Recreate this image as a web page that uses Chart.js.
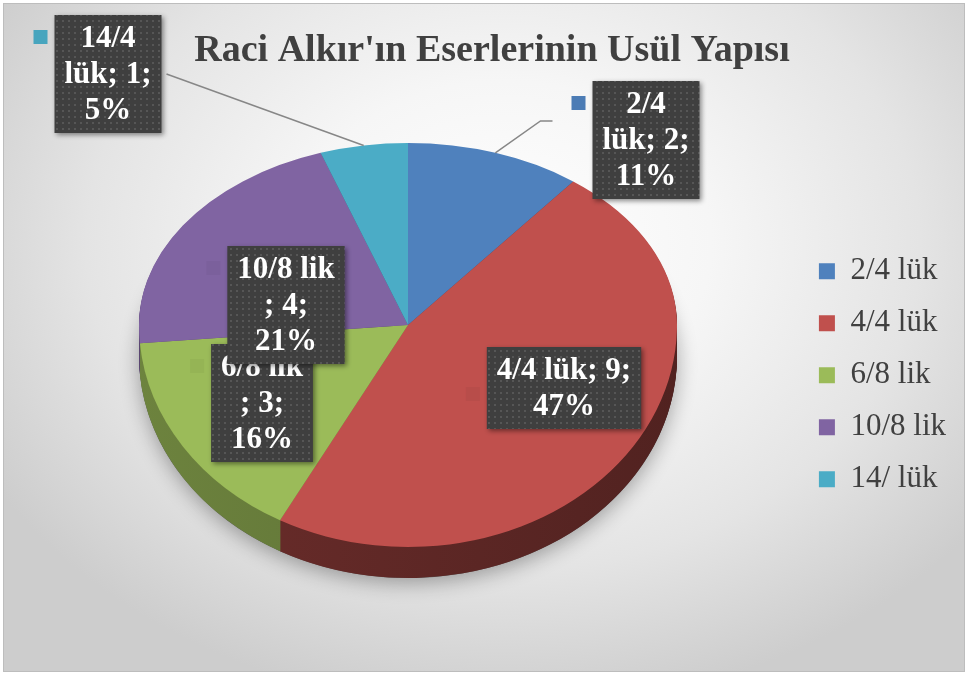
<!DOCTYPE html>
<html lang="tr">
<head>
  <meta charset="UTF-8">
  <title>Raci Alkır'ın Eserlerinin Usül Yapısı</title>
  <script src="https://cdn.jsdelivr.net/npm/chart.js"></script>
  <style>
    html, body { margin: 0; padding: 0; background: #fff; }
    .frame {
      position: absolute; left: 3px; top: 3px; width: 960px; height: 667px;
      border: 1px solid #bdbdbd;
      background: radial-gradient(ellipse 62% 70% at 52% 36%, #ffffff 0%, #f6f6f6 35%, #e4e4e4 70%, #cdcdcd 100%);
    }
    #pie { position: absolute; left: 0; top: 0; }
  </style>
</head>
<body>
  <div class="frame"></div>
  <canvas id="pie" width="968" height="675"></canvas>

  <script>
    // Kategori adlari (lejant) ve etiket kutularindaki adlar
    const categories = ["2/4 lük", "4/4 lük", "6/8 lik", "10/8 lik", "14/ lük"];
    const labelNames = ["2/4 lük", "4/4 lük", "6/8 lik", "10/8 lik", "14/4 lük"];
    // Eser sayilari
    const counts = [2, 9, 3, 4, 1];
    const colors = ["#4f81bd", "#c0504d", "#9bbb59", "#8064a2", "#4bacc6"];

    // 3B gorunum: merkez, yatay yaricap, ust/alt yari dikey yaricaplar (perspektif), derinlik
    const PIE = { cx: 408, cy: 325, rx: 269, ryTop: 182, ryBot: 222, depth: 31 };

    // Etiket kutulari: pasta merkezine gore kutu merkezi, satir kirma genisligi (em)
    const LBL = { size: 31, line: 36, padX: 10, padY: 5 };
    const labelOffsets = [[238, -185], [156, 63], [-146, 78], [-122, -20], [-300, -251]];
    const labelWrap = [2.86, 5, 2.86, 3.3, 2.86];

    function shade(hex, f) {
      const n = parseInt(hex.slice(1), 16);
      const r = Math.round(((n >> 16) & 255) * f);
      const g = Math.round(((n >> 8) & 255) * f);
      const b = Math.round((n & 255) * f);
      return `rgb(${r},${g},${b})`;
    }

    // ust ve alt yariyi ayri olcekle ciz (basit perspektif)
    function eachHalf(ctx, arc, dy, fn) {
      const W = ctx.canvas.width, H = ctx.canvas.height;
      const yc = PIE.cy + dy;
      [[0, yc + 0.5, PIE.ryTop], [yc - 0.5, H, PIE.ryBot]].forEach(([y0, y1, ry]) => {
        ctx.save();
        ctx.beginPath();
        ctx.rect(0, y0, W, y1 - y0);
        ctx.clip();
        ctx.translate(PIE.cx, yc);
        ctx.scale(PIE.rx / arc.outerRadius, ry / arc.outerRadius);
        ctx.translate(-arc.x, -arc.y);
        fn();
        ctx.restore();
      });
    }

    // elips uzerindeki nokta (dilimin orta acisi)
    function rimPoint(arc) {
      const a = (arc.startAngle + arc.endAngle) / 2;
      const ry = Math.sin(a) < 0 ? PIE.ryTop : PIE.ryBot;
      return [PIE.cx + Math.cos(a) * PIE.rx, PIE.cy + Math.sin(a) * ry];
    }

    const pie3d = {
      id: 'pie3d',
      beforeDatasetsDraw(chart) {
        const ctx = chart.ctx;
        const arcs = chart.getDatasetMeta(0).data;
        const a0 = arcs[0];

        // taban golgesi
        ctx.save();
        ctx.shadowColor = 'rgba(0,0,0,0.33)';
        ctx.shadowBlur = 20;
        ctx.shadowOffsetY = 5;
        ctx.fillStyle = '#555';
        ctx.beginPath();
        ctx.ellipse(PIE.cx, PIE.cy + PIE.depth, PIE.rx, PIE.ryBot, 0, 0, Math.PI);
        ctx.ellipse(PIE.cx, PIE.cy + PIE.depth, PIE.rx, PIE.ryTop, 0, Math.PI, Math.PI * 2);
        ctx.closePath();
        ctx.fill();
        ctx.restore();

        // yan yuzler
        for (let k = PIE.depth; k >= 1; k--) {
          eachHalf(ctx, a0, k, () => {
            arcs.forEach((arc, i) => {
              const g = ctx.createLinearGradient(arc.x - arc.outerRadius, 0, arc.x + arc.outerRadius, 0);
              const f = i === 1 ? [0.56, 0.42] : [0.7, 0.55];
              g.addColorStop(0, shade(colors[i], f[0]));
              g.addColorStop(1, shade(colors[i], f[1]));
              ctx.beginPath();
              ctx.moveTo(arc.x, arc.y);
              ctx.arc(arc.x, arc.y, arc.outerRadius, arc.startAngle, arc.endAngle);
              ctx.closePath();
              ctx.fillStyle = g;
              ctx.fill();
            });
          });
        }
        // ust yuz: kutuphanenin kendi dilim elemanlari
        eachHalf(ctx, a0, 0, () => arcs.forEach(arc => arc.draw(ctx)));
        return false;
      }
    };

    function makePattern(ctx) {
      const c = document.createElement('canvas');
      c.width = 6; c.height = 6;
      const p = c.getContext('2d');
      p.fillStyle = '#3f3f3f';
      p.fillRect(0, 0, 6, 6);
      p.fillStyle = '#565656';
      p.fillRect(2, 2, 2, 2);
      return ctx.createPattern(c, 'repeat');
    }

    function wrap(ctx, text, maxW) {
      const tokens = text.split(/(?= )|(?=;)/);
      const lines = [];
      let line = '';
      tokens.forEach(t => {
        const cand = line + t;
        if (line !== '' && ctx.measureText(cand).width > maxW) {
          lines.push(line);
          line = t.trimStart();
        } else {
          line = cand;
        }
      });
      if (line) lines.push(line);
      return lines;
    }

    const boxLabels = {
      id: 'boxLabels',
      afterDraw(chart) {
        const ctx = chart.ctx;
        const arcs = chart.getDatasetMeta(0).data;
        const total = counts.reduce((a, b) => a + b, 0);
        const pattern = makePattern(ctx);
        ctx.save();
        ctx.font = `bold ${LBL.size}px "Liberation Serif", "Times New Roman", serif`;
        arcs.forEach((arc, i) => {
          const pct = Math.round(counts[i] / total * 100);
          const lines = wrap(ctx, `${labelNames[i]}; ${counts[i]};`, labelWrap[i] * LBL.size);
          lines.push(pct + '%');
          const w = Math.max(...lines.map(l => ctx.measureText(l).width)) + LBL.padX * 2;
          const h = lines.length * LBL.line + LBL.padY * 2;
          const bx = PIE.cx + labelOffsets[i][0] - w / 2;
          const by = PIE.cy + labelOffsets[i][1] - h / 2;

          // pastanin disindaki etiketler icin kilavuz cizgisi
          const ex = labelOffsets[i][0] / PIE.rx, ey = labelOffsets[i][1] / PIE.ryTop;
          const outside = ex * ex + ey * ey > 1;
          const [px, py] = rimPoint(arc);
          ctx.strokeStyle = '#878787';
          ctx.lineWidth = 1.5;
          if (outside && px < bx) {
            ctx.beginPath();
            ctx.moveTo(px, py);
            ctx.lineTo(bx - 52, by + 40);
            ctx.lineTo(bx - 40, by + 40);
            ctx.stroke();
          } else if (outside) {
            ctx.beginPath();
            ctx.moveTo(bx + w + 5, by + h / 2);
            ctx.lineTo(px, py);
            ctx.stroke();
          }

          // lejant anahtari
          const ky = lines.length > 2 ? by + 22 : by + h / 2 + 6;
          ctx.fillStyle = shade(colors[i], 0.96);
          ctx.fillRect(bx - 21, ky - 7, 14, 14);

          ctx.save();
          ctx.shadowColor = 'rgba(0,0,0,0.45)';
          ctx.shadowBlur = 5;
          ctx.shadowOffsetX = 2;
          ctx.shadowOffsetY = 2;
          ctx.fillStyle = pattern;
          ctx.fillRect(bx, by, w, h);
          ctx.restore();

          ctx.fillStyle = '#ffffff';
          ctx.textAlign = 'center';
          ctx.textBaseline = 'middle';
          lines.forEach((l, j) => {
            ctx.fillText(l, bx + w / 2, by + LBL.padY + LBL.line * (j + 0.5) + 1);
          });
        });
        ctx.restore();
      }
    };

    new Chart(document.getElementById('pie'), {
      type: 'pie',
      data: {
        labels: categories,
        datasets: [{
          data: counts,
          backgroundColor: colors,
          borderWidth: 0
        }]
      },
      options: {
        responsive: false,
        animation: false,
        layout: { padding: { left: 28, right: 12, top: 0, bottom: 8 } },
        plugins: {
          title: {
            display: true,
            text: "Raci Alkır'ın Eserlerinin Usül Yapısı",
            color: '#404040',
            font: { family: 'Liberation Serif', size: 38, weight: 'bold' },
            padding: { top: 28, bottom: 10 }
          },
          legend: {
            position: 'right',
            fullSize: false,
            labels: {
              color: '#404040',
              font: { family: 'Liberation Serif', size: 31 },
              boxWidth: 16,
              boxHeight: 16,
              padding: 21
            }
          },
          tooltip: { enabled: false }
        }
      },
      plugins: [pie3d, boxLabels]
    });
  </script>
</body>
</html>
